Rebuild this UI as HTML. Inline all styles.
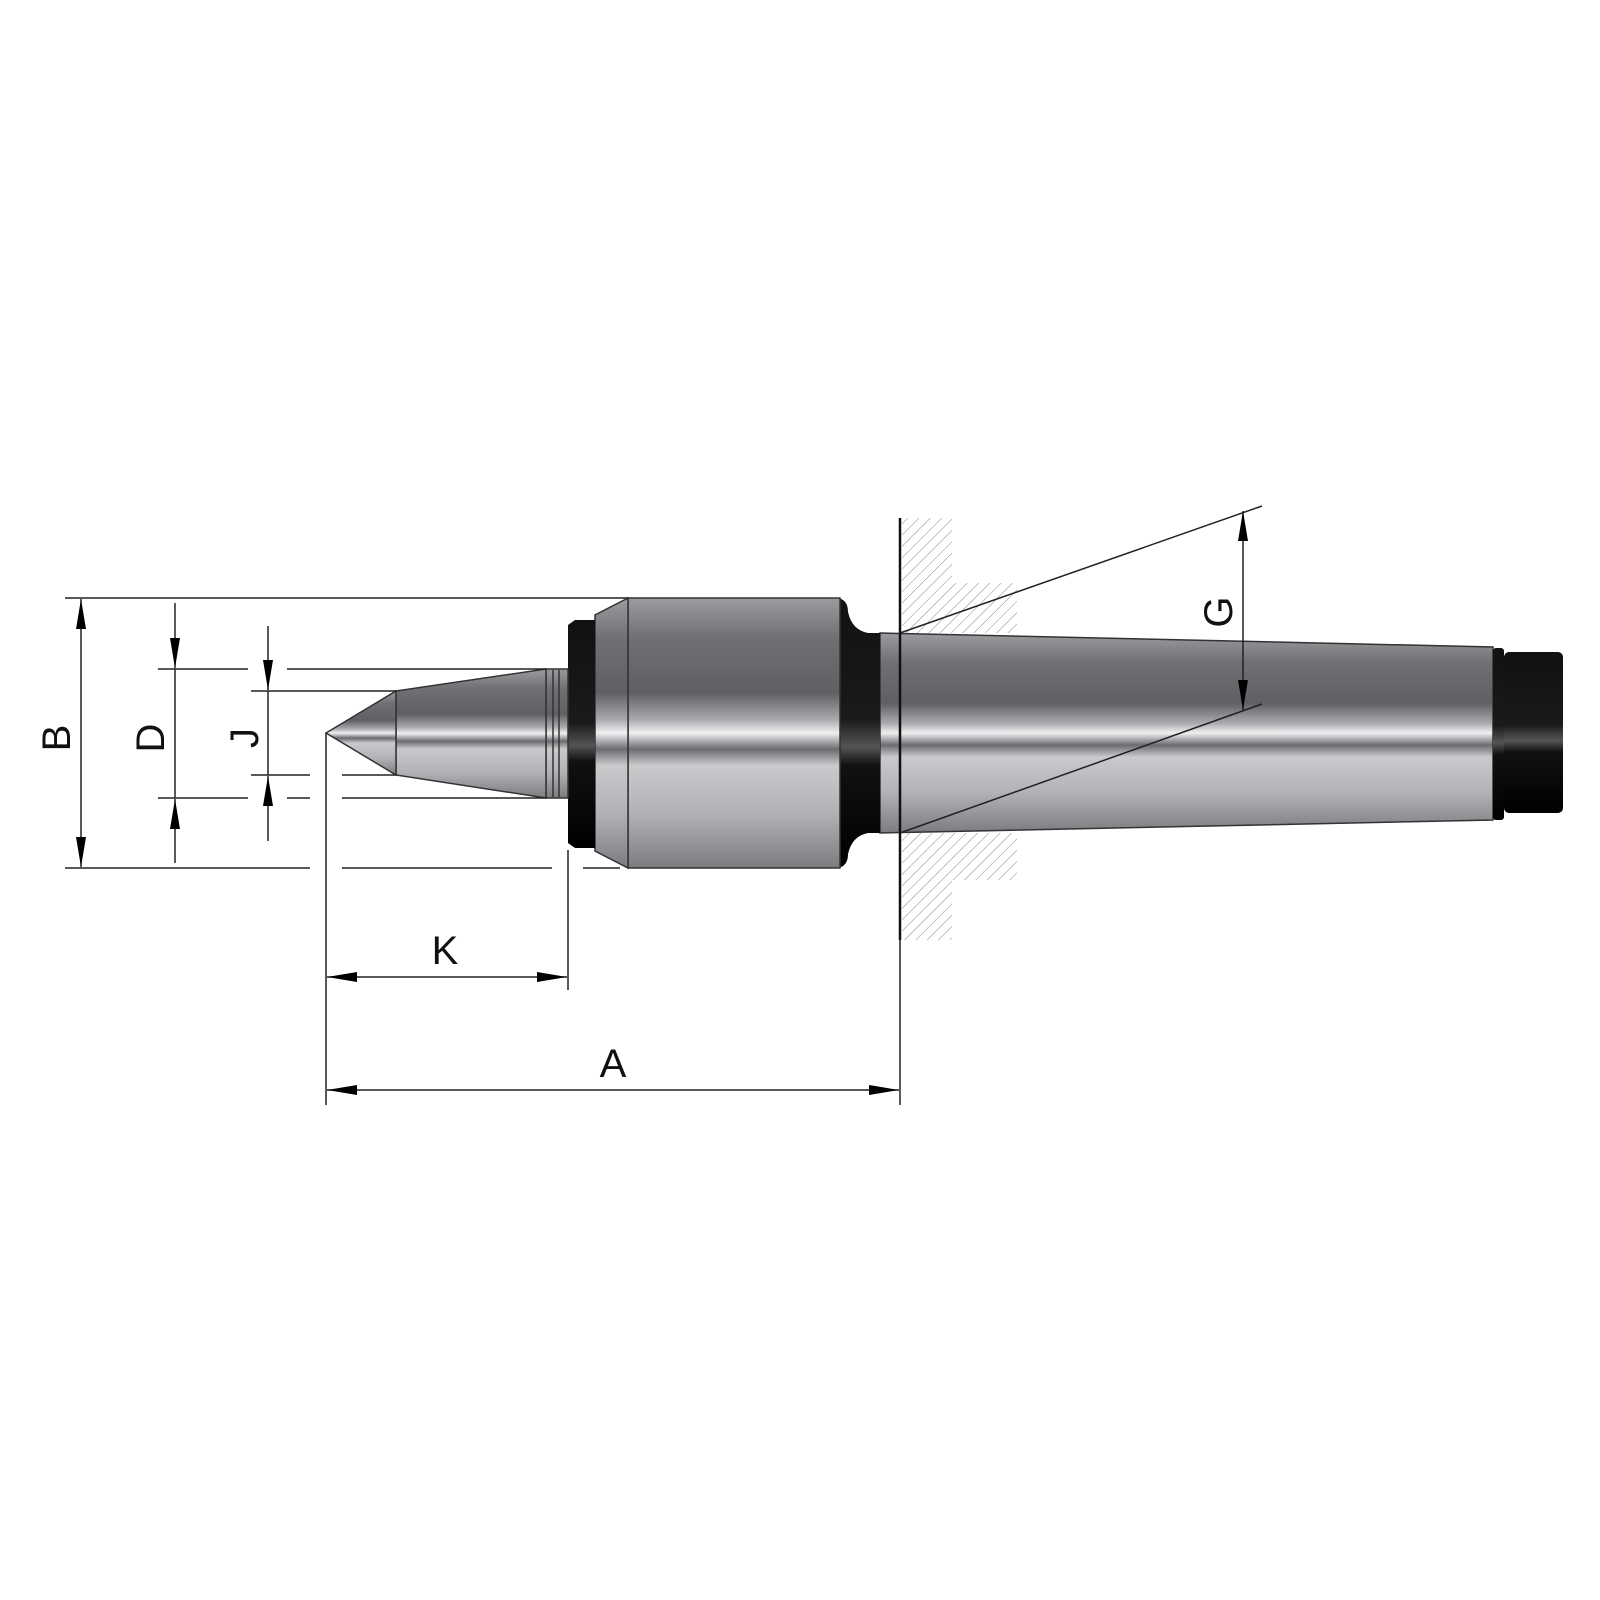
<!DOCTYPE html>
<html><head><meta charset="utf-8"><style>html,body{margin:0;padding:0;background:#fff}svg{display:block}</style></head><body>
<svg width="1600" height="1600" viewBox="0 0 1600 1600" xmlns="http://www.w3.org/2000/svg">
<defs>
<linearGradient id="m" x1="0" y1="0" x2="0" y2="1">
<stop offset="0" stop-color="#9a9ca0"/><stop offset="0.15" stop-color="#6e7074"/><stop offset="0.35" stop-color="#5e6064"/>
<stop offset="0.45" stop-color="#a8aaae"/><stop offset="0.5" stop-color="#f0f0f2"/><stop offset="0.56" stop-color="#6a6c70"/>
<stop offset="0.62" stop-color="#c8cacc"/><stop offset="0.8" stop-color="#b0b2b6"/><stop offset="1" stop-color="#7a7c80"/>
</linearGradient>
<linearGradient id="k" x1="0" y1="0" x2="0" y2="1">
<stop offset="0" stop-color="#111"/><stop offset="0.45" stop-color="#1a1a1a"/><stop offset="0.55" stop-color="#555"/><stop offset="0.62" stop-color="#111"/><stop offset="1" stop-color="#000"/>
</linearGradient>
<pattern id="h" width="8" height="8" patternUnits="userSpaceOnUse" patternTransform="rotate(45)">
<line x1="0" y1="0" x2="0" y2="8" stroke="#888" stroke-width="1"/>
</pattern>
<marker id="a" viewBox="0 0 30 10" refX="30" refY="5" markerWidth="30" markerHeight="11" markerUnits="userSpaceOnUse" orient="auto-start-reverse"><path d="M0 0 L30 5 L0 10 Z"/></marker>
</defs>
<style>.l{stroke:#222;stroke-width:1.5;fill:none}.o{stroke:#333;stroke-width:1.5}</style>
<path d="M902 518 H952 V583 H1017 V633 H902 Z" fill="url(#h)"/>
<path d="M902 833 H1017 V880 H952 V940 H902 Z" fill="url(#h)"/>
<path d="M880 633 L1493 647 L1493 820 L880 833 Z" fill="url(#m)" class="o"/>
<rect x="1493" y="648" width="11" height="172" rx="3" fill="url(#k)"/>
<rect x="1504" y="652" width="59" height="161" rx="5" fill="url(#k)"/>
<path d="M838 598 Q848 600 848 612 Q852 630 868 633 L880 633 L880 833 L868 833 Q852 836 848 854 Q848 866 838 868 Z" fill="url(#k)"/>
<rect x="628" y="598" width="212" height="270" fill="url(#m)" class="o"/>
<path d="M628 598 L595 615 L595 851 L628 868 Z" fill="url(#m)" class="o"/>
<path d="M568 625 L575 620 L595 620 L595 848 L575 848 L568 843 Z" fill="url(#k)"/>
<rect x="546" y="669" width="22" height="129" fill="url(#m)" class="o"/>
<line x1="553" y1="670" x2="553" y2="797" class="o"/><line x1="559" y1="670" x2="559" y2="797" class="o"/>
<path d="M396 691 L546 669 L546 798 L396 775 Z" fill="url(#m)" class="o"/>
<path d="M326 733 L396 691 L396 775 Z" fill="url(#m)" class="o"/>
<line x1="900" y1="518" x2="900" y2="940" stroke="#111" stroke-width="2.5"/>
<g class="l">
<line x1="65" y1="598" x2="628" y2="598"/>
<line x1="65" y1="868" x2="310" y2="868"/><line x1="342" y1="868" x2="552" y2="868"/><line x1="583" y1="868" x2="620" y2="868"/>
<line x1="158" y1="669" x2="248" y2="669"/><line x1="287" y1="669" x2="546" y2="669"/>
<line x1="158" y1="798" x2="248" y2="798"/><line x1="287" y1="798" x2="310" y2="798"/><line x1="342" y1="798" x2="546" y2="798"/>
<line x1="251" y1="691" x2="396" y2="691"/>
<line x1="251" y1="775" x2="310" y2="775"/><line x1="342" y1="775" x2="396" y2="775"/>
<line x1="326" y1="733" x2="326" y2="1105"/>
<line x1="568" y1="850" x2="568" y2="990"/>
<line x1="900" y1="940" x2="900" y2="1105"/>
<line x1="900" y1="633" x2="1262" y2="506"/>
<line x1="900" y1="833" x2="1262" y2="704"/>
<line x1="175" y1="669" x2="175" y2="798"/>
<line x1="268" y1="691" x2="268" y2="775"/>
</g>
<g class="l" marker-end="url(#a)">
<line x1="81" y1="867" x2="81" y2="599" marker-start="url(#a)"/>
<line x1="175" y1="603" x2="175" y2="668"/>
<line x1="175" y1="863" x2="175" y2="799"/>
<line x1="268" y1="626" x2="268" y2="690"/>
<line x1="268" y1="841" x2="268" y2="776"/>
<line x1="327" y1="977" x2="567" y2="977" marker-start="url(#a)"/>
<line x1="327" y1="1090" x2="899" y2="1090" marker-start="url(#a)"/>
<line x1="1243" y1="511" x2="1243" y2="710" marker-start="url(#a)"/>
</g>
<g font-family="Liberation Sans, sans-serif" font-size="40" fill="#111" text-anchor="middle">
<text x="445" y="964">K</text>
<text x="613" y="1077">A</text>
<text transform="translate(70,738) rotate(-90)">B</text>
<text transform="translate(164,738) rotate(-90)">D</text>
<text transform="translate(258,738) rotate(-90)">J</text>
<text transform="translate(1232,612) rotate(-90)">G</text>
</g>
</svg>
</body></html>
